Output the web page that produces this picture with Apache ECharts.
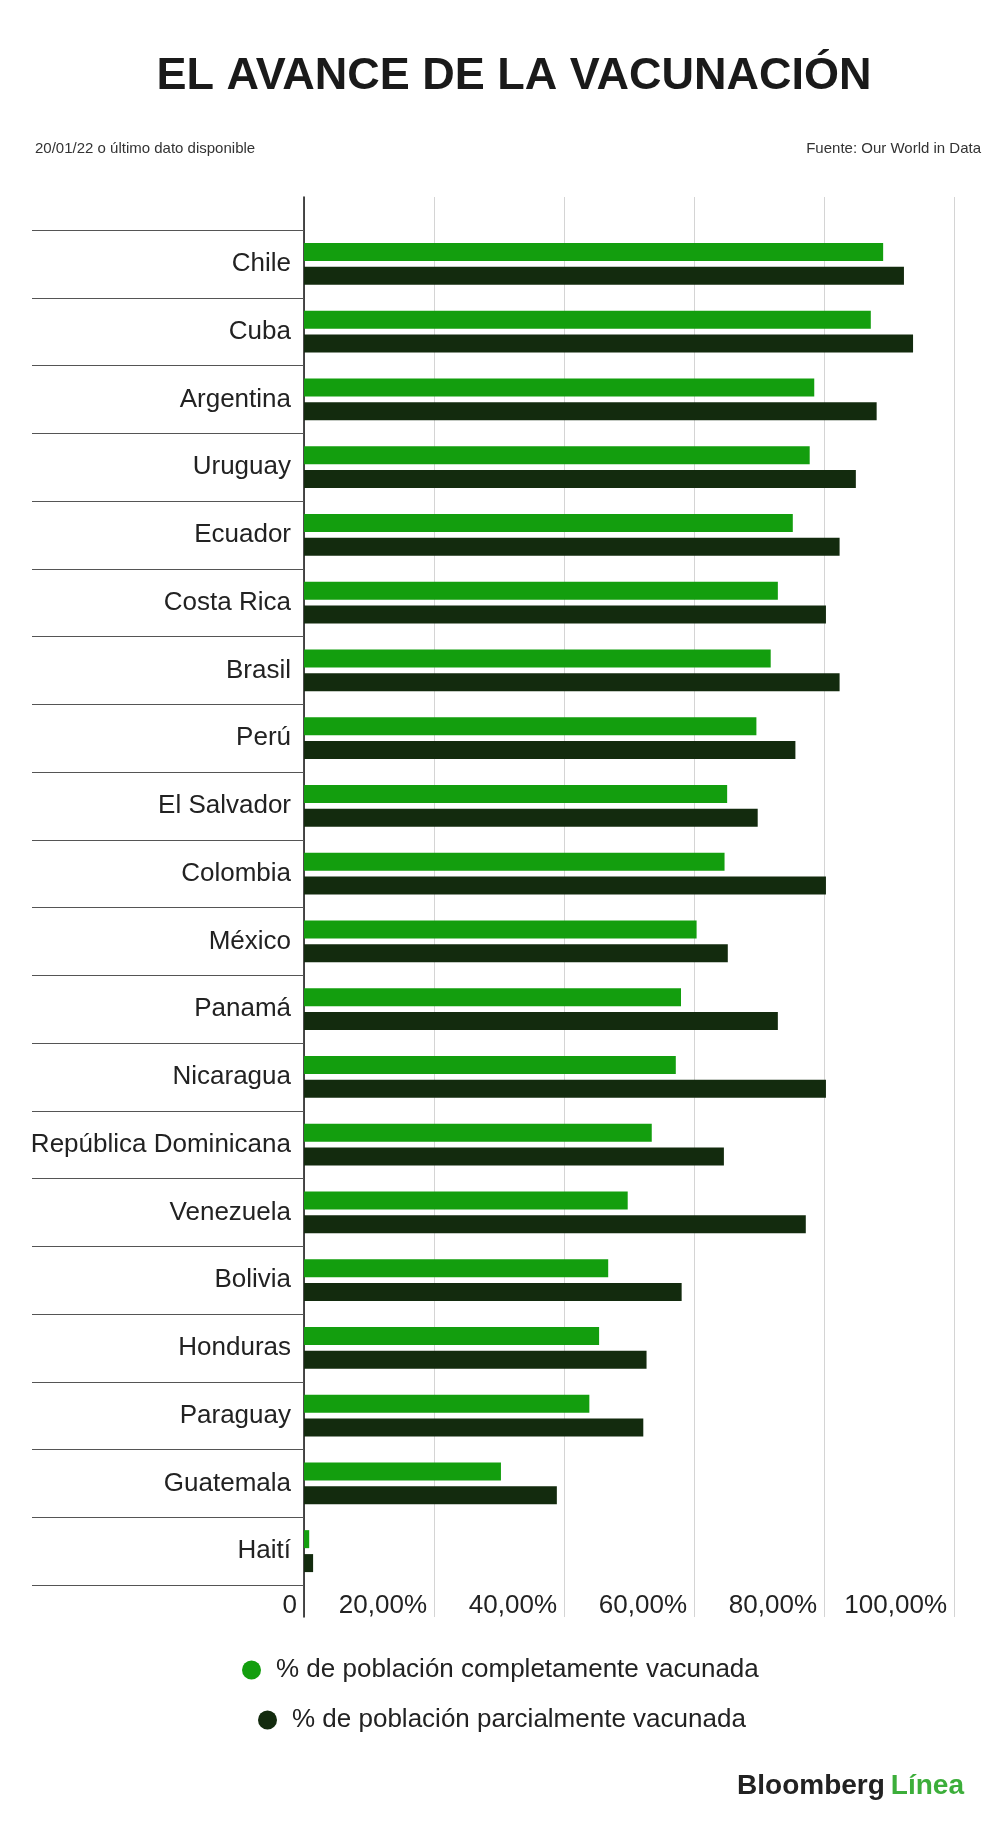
<!DOCTYPE html>
<html>
<head>
<meta charset="utf-8">
<title>El avance de la vacunación</title>
<script src="https://cdn.jsdelivr.net/npm/echarts@6/dist/echarts.min.js"></script>
<style>
  html, body { margin: 0; padding: 0; background: #fff; }
  #chart { width: 1000px; height: 1826px; }
</style>
</head>
<body>
<div id="chart"></div>
<script>
// datos (% de población)
var paises = ['Chile', 'Cuba', 'Argentina', 'Uruguay', 'Ecuador', 'Costa Rica', 'Brasil', 'Perú',
    'El Salvador', 'Colombia', 'México', 'Panamá', 'Nicaragua', 'República Dominicana',
    'Venezuela', 'Bolivia', 'Honduras', 'Paraguay', 'Guatemala', 'Haití'];
var completa = [89.1, 87.2, 78.5, 77.8, 75.2, 72.9, 71.8, 69.6, 65.1, 64.7, 60.4, 58.0, 57.2, 53.5,
    49.8, 46.8, 45.4, 43.9, 30.3, 0.8];
var parcial = [92.3, 93.7, 88.1, 84.9, 82.4, 80.3, 82.4, 75.6, 69.8, 80.3, 65.2, 72.9, 80.3, 64.6,
    77.2, 58.1, 52.7, 52.2, 38.9, 1.4];
var ticks = [0, 20, 40, 60, 80, 100];

var nombreCompleta = '% de población completamente vacunada';
var nombreParcial = '% de población parcialmente vacunada';
var verde = '#139e0e';
var oscuro = '#132b0e';
var fuente = '"Liberation Sans", Arial, sans-serif';

var chart = echarts.init(document.getElementById('chart'));

var option = {
    backgroundColor: '#ffffff',
    textStyle: { fontFamily: fuente },
    animation: false,
    graphic: [
        {   // título
            type: 'text', x: 514, y: 77,
            style: {
                text: 'EL AVANCE DE LA VACUNACIÓN', font: 'bold 45px ' + fuente, fill: '#1a1a1a',
                align: 'center', verticalAlign: 'middle'
            }
        },
        {
            type: 'text', left: 35, top: 141,
            style: { text: '20/01/22 o último dato disponible', font: '15px ' + fuente, fill: '#333' }
        },
        {
            type: 'text', right: 19, top: 141,
            style: { text: 'Fuente: Our World in Data', font: '15px ' + fuente, fill: '#333' }
        },
        {   // logo
            type: 'text', right: 36, top: 1772,
            style: {
                text: '{a|Bloomberg}{b|Línea}',
                rich: {
                    a: { font: 'bold 28px ' + fuente, fill: '#222' },
                    b: { font: 'bold 28px ' + fuente, fill: '#3cae3a', padding: [0, 0, 0, 6] }
                }
            }
        }
    ],
    legend: [{
        data: [nombreCompleta],
        left: 237, top: 1652,
        icon: 'circle', itemWidth: 19, itemHeight: 19,
        textStyle: { fontSize: 26, color: '#222', padding: [0, 0, 0, 10] }
    }, {
        data: [nombreParcial],
        left: 253, top: 1702,
        icon: 'circle', itemWidth: 19, itemHeight: 19,
        textStyle: { fontSize: 26, color: '#222', padding: [0, 0, 0, 10] }
    }],
    grid: [
        { left: 304, right: 46, top: 230, height: 1355 },
        { left: 304, right: 46, top: 197, bottom: 209 }
    ],
    xAxis: [{
        gridIndex: 0, type: 'value', min: ticks[0], max: ticks[ticks.length - 1], interval: 20,
        splitLine: { show: false },
        axisLine: { show: false }, axisTick: { show: false },
        axisLabel: {
            fontSize: 26, color: '#222', margin: 8, align: 'right', padding: [0, 7, 0, 0],
            formatter: function (v) {
                return v === 0 ? '0' : v.toFixed(2).replace('.', ',') + '%';
            }
        }
    }, {
        gridIndex: 1, type: 'value', min: 0, max: 100, interval: 20,
        axisLabel: { show: false }, axisLine: { show: false }, axisTick: { show: false },
        splitLine: { show: true, lineStyle: { color: '#d4d4d4', width: 1 } }
    }],
    yAxis: [{
        gridIndex: 0, type: 'category', data: paises, inverse: true,
        axisLine: { show: false },
        axisTick: { show: true, length: 272, lineStyle: { color: '#555', width: 1 } },
        axisLabel: { fontSize: 26, color: '#222', margin: 13 }
    }, {
        gridIndex: 1, type: 'value', min: 0, max: 1,
        axisLabel: { show: false }, axisTick: { show: false }, splitLine: { show: false },
        axisLine: { show: true, lineStyle: { color: '#111', width: 1.5 } }
    }],
    series: [{
        name: nombreCompleta, type: 'bar', xAxisIndex: 0, yAxisIndex: 0,
        barWidth: 18, barGap: '33%',
        itemStyle: { color: verde },
        data: completa
    }, {
        name: nombreParcial, type: 'bar', xAxisIndex: 0, yAxisIndex: 0,
        barWidth: 18, barGap: '33%',
        itemStyle: { color: oscuro },
        data: parcial
    }]
};

chart.setOption(option);
</script>
</body>
</html>
